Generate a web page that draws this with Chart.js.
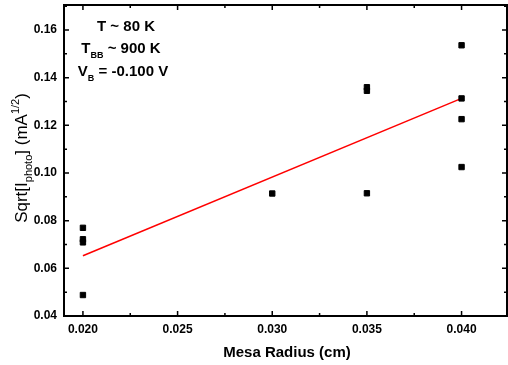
<!DOCTYPE html>
<html>
<head>
<meta charset="utf-8">
<script src="https://cdn.jsdelivr.net/npm/chart.js@4/dist/chart.umd.min.js"></script>
<style>
  body { margin: 0; background: #fff; }
  canvas { display: block; }
</style>
</head>
<body>
<canvas id="chart" width="508" height="365"></canvas>
<script>
// measured points
const mesaRadius = [0.020, 0.020, 0.020, 0.020, 0.030, 0.035, 0.035, 0.035, 0.040, 0.040, 0.040, 0.040];
const sqrtPhoto = [0.0770, 0.0722, 0.0709, 0.0488, 0.0914, 0.0915, 0.1360, 0.1345, 0.1536, 0.1313, 0.1226, 0.1025];
// linear fit
const fitRadius = [0.020, 0.040];
const fitValues = [0.0653, 0.1313];

const xTicks = [0.020, 0.025, 0.030, 0.035, 0.040];
const yTicks = [0.04, 0.06, 0.08, 0.10, 0.12, 0.14, 0.16];

const FONT = "'Liberation Sans', Arial, sans-serif";

// draws text made of pieces, some as sub/superscript
function drawRich(ctx, parts, x, y, size, weight) {
  const small = Math.round(size * 0.62);
  let total = 0;
  parts.forEach((p) => {
    ctx.font = `${weight} ${p.s ? small : size}px ${FONT}`;
    p.w = ctx.measureText(p.t).width;
    total += p.w;
  });
  let cx = x - total / 2;
  ctx.textAlign = "left";
  ctx.textBaseline = "alphabetic";
  parts.forEach((p) => {
    ctx.font = `${weight} ${p.s ? small : size}px ${FONT}`;
    let dy = 0;
    if (p.s === "sub") dy = size * 0.3;
    if (p.s === "sup") dy = -size * 0.45;
    ctx.fillText(p.t, cx, y + dy);
    cx += p.w;
  });
}

// no extra room for end labels, plot area is fixed by layout padding
function fixPadding(s) {
  s.paddingTop = 0;
  s.paddingBottom = 0;
  s.paddingLeft = 0;
  s.paddingRight = 0;
}

const decor = {
  id: "decor",
  afterDraw(chart) {
    const ctx = chart.ctx;
    const a = chart.chartArea;
    const xs = chart.scales.x;
    const ys = chart.scales.y;
    ctx.save();
    ctx.strokeStyle = "#000";
    ctx.lineWidth = 2;
    ctx.strokeRect(a.left, a.top, a.right - a.left, a.bottom - a.top);

    ctx.lineWidth = 1.5;
    ctx.beginPath();
    // x ticks, major + minor, bottom and top
    for (let i = 0; i < xTicks.length; i++) {
      const px = xs.getPixelForValue(xTicks[i]);
      ctx.moveTo(px, a.bottom); ctx.lineTo(px, a.bottom - 5);
      ctx.moveTo(px, a.top); ctx.lineTo(px, a.top + 5);
      if (i < xTicks.length - 1) {
        const mx = xs.getPixelForValue((xTicks[i] + xTicks[i + 1]) / 2);
        ctx.moveTo(mx, a.bottom); ctx.lineTo(mx, a.bottom - 3);
        ctx.moveTo(mx, a.top); ctx.lineTo(mx, a.top + 3);
      }
    }
    for (let i = 0; i < yTicks.length; i++) {
      const py = ys.getPixelForValue(yTicks[i]);
      ctx.moveTo(a.left, py); ctx.lineTo(a.left + 5, py);
      ctx.moveTo(a.right, py); ctx.lineTo(a.right - 5, py);
      const mv = yTicks[i] + 0.01;
      if (mv < ys.max) {
        const my = ys.getPixelForValue(mv);
        ctx.moveTo(a.left, my); ctx.lineTo(a.left + 3, my);
        ctx.moveTo(a.right, my); ctx.lineTo(a.right - 3, my);
      }
    }
    ctx.stroke();

    ctx.fillStyle = "#000";
    // annotation block
    drawRich(ctx, [{ t: "T ~ 80 K" }], 126, 31, 15, "bold");
    drawRich(ctx, [{ t: "T" }, { t: "BB", s: "sub" }, { t: " ~ 900 K" }], 121, 53, 15, "bold");
    drawRich(ctx, [{ t: "V" }, { t: "B", s: "sub" }, { t: " = -0.100 V" }], 123, 76, 15, "bold");

    // x title
    drawRich(ctx, [{ t: "Mesa Radius (cm)" }], 287, 357, 15, "bold");

    // y title
    ctx.translate(27, 158);
    ctx.rotate(-Math.PI / 2);
    drawRich(ctx, [
      { t: "Sqrt[I" }, { t: "photo", s: "sub" }, { t: "] (mA" }, { t: "1/2", s: "sup" }, { t: ")" }
    ], 0, 0, 17, "normal");
    ctx.restore();
  },
};

new Chart(document.getElementById("chart"), {
  type: "scatter",
  data: {
    datasets: [
      {
        label: "data",
        data: mesaRadius.map((x, i) => ({ x: x, y: sqrtPhoto[i] })),
        pointStyle: "rect",
        pointRadius: 3.8,
        borderWidth: 1,
        backgroundColor: "#000",
        borderColor: "#000",
      },
      {
        label: "fit",
        type: "line",
        data: fitRadius.map((x, i) => ({ x: x, y: fitValues[i] })),
        borderColor: "#ff0000",
        borderWidth: 1.5,
        pointRadius: 0,
        fill: false,
      },
    ],
  },
  options: {
    responsive: false,
    animation: false,
    devicePixelRatio: 1,
    layout: { autoPadding: false, padding: { left: 0, right: 1, top: 5, bottom: 0 } },
    plugins: { legend: { display: false }, tooltip: { enabled: false } },
    scales: {
      x: {
        type: "linear",
        min: 0.019,
        max: 0.0424,
        grid: { display: false, drawTicks: false },
        border: { display: false },
        afterBuildTicks: (s) => { s.ticks = xTicks.map((v) => ({ value: v })); },
        afterFit: (s) => { s.height = 49; fixPadding(s); },
        ticks: {
          padding: 6,
          color: "#000",
          font: { family: FONT, size: 12, weight: "bold" },
          callback: (v) => v.toFixed(3),
        },
      },
      y: {
        type: "linear",
        min: 0.04,
        max: 0.1705,
        grid: { display: false, drawTicks: false },
        border: { display: false },
        afterBuildTicks: (s) => { s.ticks = yTicks.map((v) => ({ value: v })); },
        afterFit: (s) => { s.width = 64; fixPadding(s); },
        ticks: {
          padding: 7,
          color: "#000",
          font: { family: FONT, size: 12, weight: "bold" },
          callback: (v) => v.toFixed(2),
        },
      },
    },
  },
  plugins: [decor],
});
</script>
</body>
</html>
